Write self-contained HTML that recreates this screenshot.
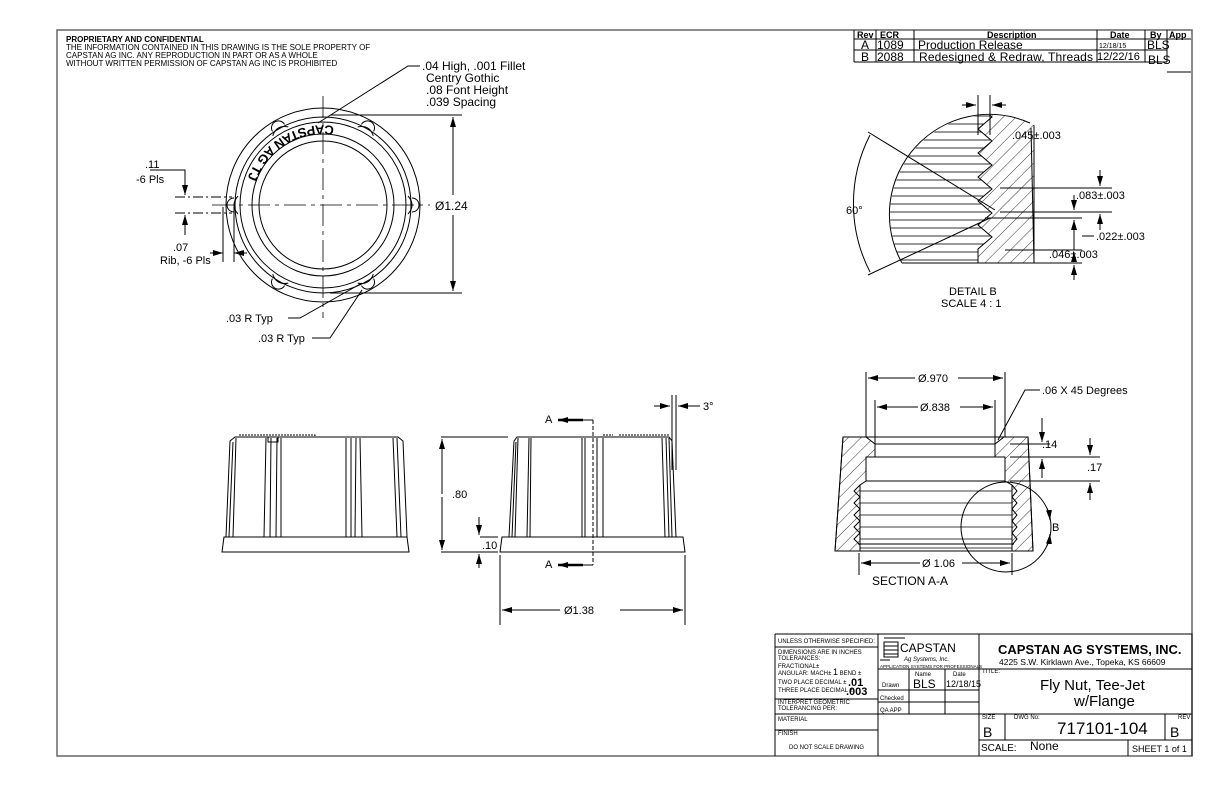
<!DOCTYPE html>
<html><head><meta charset="utf-8"><style>
body{margin:0;background:#fff}
svg{display:block}
text{font-family:"Liberation Sans",sans-serif;fill:#000}
</style></head><body>
<svg width="1224" height="792" viewBox="0 0 1224 792" xmlns="http://www.w3.org/2000/svg">
<defs>
<marker id="ar" markerWidth="10" markerHeight="6" refX="10" refY="3" orient="auto" markerUnits="userSpaceOnUse"><path d="M0,0 L10,3 L0,6z" fill="#000"/></marker>
<pattern id="hatch" width="9" height="9" patternUnits="userSpaceOnUse" patternTransform="rotate(45)"><line x1="0" y1="0" x2="0" y2="9" stroke="#000" stroke-width="0.8"/></pattern>
<pattern id="hlines" width="10" height="8" patternUnits="userSpaceOnUse"><line x1="0" y1="4" x2="10" y2="4" stroke="#000" stroke-width="0.8"/></pattern>
<clipPath id="dclip"><circle cx="990" cy="215" r="100"/></clipPath>
</defs>
<g stroke="#000" fill="none" stroke-width="1">
<path d="M57,30 H1192 V756 H57 Z" stroke="#666" stroke-width="1.5"/>
<path d="M854,30 V62 M854,39 H1191 M854,50 H1167 M854,62 H1167 M876,30 V62 M914,30 V62 M1097,30 V62 M1145,30 V62 M1167,30 V62 M1167,72 H1191"/>
<path d="M775,634 H1192 V756 M775,634 V756 M878,634 V756 M979,634 V756 M775,647 H878 M775,699 H878 M775,714 H878 M775,730 H878 M878,669 H1192 M878,690 H979 M878,702 H979 M878,714 H1192 M909,669 V714 M945,669 V714 M979,740 H1192 M1005,714 V740 M1165,714 V740 M1128,740 V756"/>
</g>
<g font-size="9" font-weight="bold"><text x="857" y="38">Rev</text><text x="880" y="38">ECR</text><text x="987" y="38">Description</text><text x="1110" y="38">Date</text><text x="1150" y="38">By</text><text x="1169" y="38">App</text></g>
<g font-size="12"><text x="861" y="49">A</text><text x="877" y="49">1089</text><text x="918" y="49">Production Release</text><text x="1099" y="48" font-size="7">12/18/15</text><text x="1147" y="49">BLS</text>
<text x="861" y="61">B</text><text x="877" y="61">2088</text><text x="919" y="61" textLength="174">Redesigned &amp; Redraw, Threads</text><text x="1097" y="60" font-size="11">12/22/16</text><text x="1148" y="64">BLS</text></g>
<text x="66" y="42" font-size="8" font-weight="bold">PROPRIETARY AND CONFIDENTIAL</text>
<g font-size="8"><text x="66" y="50">THE INFORMATION CONTAINED IN THIS DRAWING IS THE SOLE PROPERTY OF</text><text x="66" y="58">CAPSTAN AG INC. ANY REPRODUCTION IN PART OR AS A WHOLE</text><text x="66" y="66">WITHOUT WRITTEN PERMISSION OF CAPSTAN AG INC IS PROHIBITED</text></g>

<g stroke="#000" fill="none" stroke-width="1">
<circle cx="323" cy="205" r="97"/>
<circle cx="323" cy="205" r="88"/>
<circle cx="323" cy="205" r="83"/>
<circle cx="323" cy="205" r="71"/>
<circle cx="323" cy="205" r="64"/>
<g>
<g transform="rotate(0 323 205)"><path d="M412,198 a6,6 0 0 1 0,14"/><path d="M408,196 q8,9 0,18"/></g>
<g transform="rotate(60 323 205)"><path d="M412,198 a6,6 0 0 1 0,14"/><path d="M408,196 q8,9 0,18"/></g>
<g transform="rotate(120 323 205)"><path d="M412,198 a6,6 0 0 1 0,14"/><path d="M408,196 q8,9 0,18"/></g>
<g transform="rotate(180 323 205)"><path d="M412,198 a6,6 0 0 1 0,14"/><path d="M408,196 q8,9 0,18"/></g>
<g transform="rotate(240 323 205)"><path d="M412,198 a6,6 0 0 1 0,14"/><path d="M408,196 q8,9 0,18"/></g>
<g transform="rotate(300 323 205)"><path d="M412,198 a6,6 0 0 1 0,14"/><path d="M408,196 q8,9 0,18"/></g>
</g>
<path d="M323,96 V318 M212,205 H430" stroke-dasharray="22,5,4,5" stroke-width="0.8"/>
<path d="M330,115 H462 M330,293 H462"/>
<path d="M453,195 V117" marker-end="url(#ar)"/><path d="M453,215 V291" marker-end="url(#ar)"/>
<path d="M175,197 H232 M175,213 H232" stroke-dasharray="10,3,2,3"/>
<path d="M150,170 H185 V195" marker-end="url(#ar)"/><path d="M185,235 V215" marker-end="url(#ar)"/>
<path d="M223,207 V262 M234,207 V262"/>
<path d="M210,253 H223" marker-end="url(#ar)"/><path d="M247,253 H234" marker-end="url(#ar)"/>
<path d="M420,66 H408 L318,123"/>
<path d="M288,318 H300 L362,283"/>
<path d="M312,338 H330 L362,290"/>
</g>
<path id="tp" d="M334,126 A 80 80 0 0 0 243,205" fill="none"/>
<text font-size="13" font-weight="bold" letter-spacing="0.5"><textPath href="#tp">CAPSTAN AG TJ</textPath></text>
<g font-size="12"><text x="422" y="70">.04 High, .001 Fillet</text><text x="426" y="82">Centry Gothic</text><text x="426" y="94">.08 Font Height</text><text x="426" y="106">.039 Spacing</text>
<text x="435" y="210">Ø1.24</text></g>
<g font-size="11"><text x="145" y="168">.11</text><text x="136" y="183">-6 Pls</text><text x="173" y="251">.07</text><text x="160" y="264">Rib, -6 Pls</text><text x="226" y="322">.03 R Typ</text><text x="258" y="342">.03 R Typ</text></g>

<g stroke="#000" fill="none" stroke-width="1">
<path d="M222,552 H409 L407,537 H224 Z"/>
<path d="M226,537 L230,441 L235,437 H398 L403,441 L407,537"/>
<path d="M229,537 L233,442 M233,537 L236,438 M264,537 L266,438 M270,537 L271,438 M276,537 L277,438 M281,537 V438 M346,537 V438 M351,537 V438 M355,537 L356,438 M362,537 L360,438 M397,537 L393,438 M401,537 L397,438"/>
<path d="M239,435 H315 V437" stroke-dasharray="2,1"/>
<path d="M268,437 h10 v5 h-10z"/>
</g>
<g stroke="#000" fill="none" stroke-width="1">
<path d="M500,552 H685 L683,537 H502 Z"/>
<path d="M509,537 L514,441 L517,437 H669 L672,441 L676,537"/>
<path d="M512,537 L516,442 M515,537 L518,438 M527,537 L529,438 M530,537 L531,438 M582,537 V438 M585,537 V438 M597,537 V438 M603,537 V438 M665,537 L662,438 M669,537 L666,438 M672,537 L669,438"/>
<path d="M619,435 H670 M603,435 h10" stroke-dasharray="2,1"/>
<path d="M441,437 H508 M441,552 H498"/>
<path d="M442,494 V439" marker-end="url(#ar)"/><path d="M442,497 V550" marker-end="url(#ar)"/>
<path d="M480,537 H498"/>
<path d="M479,517 V535" marker-end="url(#ar)"/><path d="M479,568 V554" marker-end="url(#ar)"/>
<path d="M500,555 V625 M685,555 V625"/>
<path d="M560,610 H502" marker-end="url(#ar)"/><path d="M620,610 H683" marker-end="url(#ar)"/>
<path d="M593,420 V565" stroke-dasharray="4,2"/>
<path d="M593,420 H575"/><path d="M583,420 H558" stroke-width="2.5" marker-end="url(#ar)"/>
<path d="M593,565 H575"/><path d="M583,565 H558" stroke-width="2.5" marker-end="url(#ar)"/>
<path d="M672,395 V470 M676,395 V470"/>
<path d="M654,406 H670" marker-end="url(#ar)"/><path d="M700,406 H678" marker-end="url(#ar)"/>
</g>
<g font-size="11"><text x="452" y="498">.80</text><text x="482" y="549">.10</text><text x="545" y="423">A</text><text x="545" y="568">A</text><text x="564" y="614">Ø1.38</text><text x="703" y="410">3°</text></g>

<g stroke="#000" stroke-width="1">
<path d="M843,437 H866 L875,444 V457 H866 V481 L860,485 V551 H835 Z" fill="url(#hatch)"/>
<path d="M1028,437 H1004 L995,444 V457 H1005 V481 L1012,485 V551 H1033 Z" fill="url(#hatch)"/>
<g fill="none">
<path d="M843,437 L835,551 M1028,437 L1033,551"/>
<path d="M866,437 H1004 M875,444 H995 M866,457 H1005 M866,481 H1005"/>
<path d="M860,485 l-6,6 6,6 -6,6 6,6 -6,6 6,6 -6,6 6,6 -6,6 6,6 V551"/>
<path d="M1012,485 l5,6 -5,6 5,6 -5,6 5,6 -5,6 5,6 -5,6 5,6 -5,6 V551"/>
<path d="M860,491 H1012 M860,503 H1012 M860,515 H1012 M860,527 H1012 M860,539 H1012 M860,548 H1012" stroke-width="0.8"/>
<path d="M858,544 H1014 M835,551 H1033"/>
<path d="M866,372 V437 M1005,372 V437 M875,400 V444 M995,400 V444"/>
<path d="M915,378 H868" marker-end="url(#ar)"/><path d="M958,378 H1003" marker-end="url(#ar)"/>
<path d="M918,407 H877" marker-end="url(#ar)"/><path d="M960,407 H993" marker-end="url(#ar)"/>
<path d="M1040,390 H1025 L998,440"/>
<path d="M1010,444 H1050 M1010,457 H1100 M1010,481 H1100"/>
<path d="M1042,418 V442" marker-end="url(#ar)"/><path d="M1042,478 V459" marker-end="url(#ar)"/>
<path d="M1090,438 V455" marker-end="url(#ar)"/><path d="M1090,500 V483" marker-end="url(#ar)"/>
<path d="M859,553 V575 M1012,553 V575"/>
<path d="M920,563 H861" marker-end="url(#ar)"/><path d="M962,563 H1010" marker-end="url(#ar)"/>
<circle cx="1006" cy="527" r="45"/>
<path d="M1047,508 A45,45 0 0 1 1050,520" marker-end="url(#ar)"/>
<path d="M1047,546 A45,45 0 0 0 1050,534" marker-end="url(#ar)"/>
</g></g>
<g font-size="11"><text x="918" y="382">Ø.970</text><text x="920" y="411">Ø.838</text><text x="1042" y="394">.06 X 45 Degrees</text><text x="1042" y="448">.14</text><text x="1087" y="471">.17</text><text x="922" y="567">Ø 1.06</text><text x="872" y="585" font-size="12">SECTION A-A</text><text x="1052" y="531">B</text></g>

<g clip-path="url(#dclip)">
<path d="M880,105 H978 l14,12 -14,12 14,12 -14,12 14,12 -14,12 14,12 -14,12 14,12 -14,12 14,12 -14,12 V263 H880 Z" fill="url(#hlines)" stroke="none"/>
<path d="M978,105 l14,12 -14,12 14,12 -14,12 14,12 -14,12 14,12 -14,12 14,12 -14,12 14,12 -14,12 V263 H1034 V105 Z" fill="url(#hatch)" stroke="#000"/>
</g>
<g stroke="#000" fill="none" stroke-width="1">
<path d="M902,263 A100,100 0 0 1 1030,123"/>
<path d="M1031,128 L1034,263 H902"/>
<path d="M978,95 V135 M990,95 V135"/>
<path d="M962,105 H976" marker-end="url(#ar)"/><path d="M1006,105 H992" marker-end="url(#ar)"/>
<path d="M868,132 L995,210 M868,275 L990,218"/>
<path d="M870,135 A150,150 0 0 0 870,272"/>
<path d="M1000,188 H1112 M1000,212 H1112 M985,218 H1082 M1005,250 H1082"/>
<path d="M1100,170 V186" marker-end="url(#ar)"/><path d="M1100,230 V214" marker-end="url(#ar)"/>
<path d="M1074,195 V210" marker-end="url(#ar)"/><path d="M1074,250 V220" marker-end="url(#ar)"/>
<path d="M1074,262 V252" marker-end="url(#ar)"/><path d="M1074,280 V265" marker-end="url(#ar)"/>
<path d="M1034,263 H1082"/>
<path d="M1082,236 H1094"/>
</g>
<g font-size="11"><text x="1012" y="139">.045±.003</text><text x="846" y="214">60°</text><text x="1076" y="199">.083±.003</text><text x="1096" y="240">.022±.003</text><text x="1049" y="258">.046±.003</text><text x="949" y="295">DETAIL B</text><text x="941" y="307">SCALE 4 : 1</text></g>

<g font-size="6"><text x="778" y="643">UNLESS OTHERWISE SPECIFIED:</text><text x="778" y="654">DIMENSIONS ARE IN INCHES</text><text x="778" y="660">TOLERANCES:</text><text x="778" y="668">FRACTIONAL±</text><text x="778" y="675">ANGULAR: MACH± <tspan font-size="9">1</tspan> BEND ±</text><text x="778" y="684">TWO PLACE DECIMAL   ±</text><text x="778" y="692">THREE PLACE DECIMAL  ±</text><text x="778" y="704">INTERPRET GEOMETRIC</text><text x="778" y="710">TOLERANCING PER:</text><text x="778" y="721">MATERIAL</text><text x="778" y="735">FINISH</text><text x="789" y="749">DO NOT SCALE DRAWING</text>
<text x="880" y="668" font-size="4.5">APPLICATION SYSTEMS FOR PROFESSIONALS</text><text x="915" y="676">Name</text><text x="953" y="676">Date</text><text x="882" y="687">Drawn</text><text x="880" y="700">Checked</text><text x="880" y="712">QA APP</text><text x="982" y="673">TITLE:</text><text x="982" y="719">SIZE</text><text x="1014" y="719">DWG No:</text><text x="1178" y="719">REV</text></g>
<g font-weight="bold" font-size="11"><text x="848" y="686">.01</text><text x="846" y="695">.003</text></g>
<g stroke="#000" fill="none"><rect x="884" y="642" width="14" height="15"/><path d="M884,638 H905 M880,660 H890 M884,646 H898 M884,650 H898 M884,654 H898"/></g>
<text x="900" y="652" font-family="Liberation Serif,serif" font-size="12">CAPSTAN</text>
<text x="904" y="661" font-family="Liberation Serif,serif" font-size="6" font-style="italic">Ag Systems, Inc.</text>
<text x="913" y="688" font-size="12">BLS</text><text x="946" y="687" font-size="9">12/18/15</text>
<text x="998" y="654" font-size="13" font-weight="bold">CAPSTAN AG SYSTEMS, INC.</text>
<text x="999" y="665" font-size="8.5">4225 S.W. Kirklawn Ave., Topeka, KS 66609</text>
<text x="1040" y="690" font-size="15">Fly Nut, Tee-Jet</text>
<text x="1074" y="706" font-size="15">w/Flange</text>
<text x="983" y="737" font-size="14">B</text><text x="1057" y="734" font-size="17">717101-104</text><text x="1170" y="737" font-size="14">B</text>
<text x="981" y="751" font-size="10">SCALE:</text><text x="1030" y="750" font-size="12">None</text><text x="1132" y="752" font-size="9">SHEET 1 of 1</text>
</svg>
</body></html>
